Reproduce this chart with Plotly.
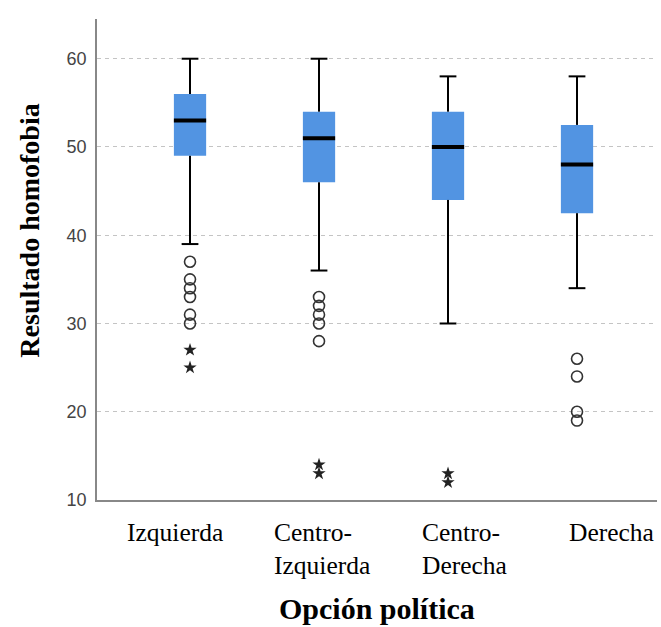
import plotly.graph_objects as go

categories = ["Izquierda", "Centro-<br>Izquierda", "Centro-<br>Derecha", "Derecha"]
upper_whisker = [60, 60, 58, 58]
q3 = [56, 54, 54, 52.5]
median = [53, 51, 50, 48]
q1 = [49, 46, 44, 42.5]
lower_whisker = [39, 36, 30, 34]
outliers_circle = [
    [37, 35, 34, 33, 31, 30],
    [33, 32, 31, 30, 28],
    [],
    [26, 24, 20, 19],
]
outliers_star = [
    [27, 25],
    [14, 13],
    [13, 12],
    [],
]
y_ticks = [10, 20, 30, 40, 50, 60]

BLUE = "#5294E2"
pos = list(range(len(categories)))
box_w = 0.25
cap_w = 0.13

fig = go.Figure()

fig.add_trace(go.Bar(
    x=pos, base=q1, y=[a - b for a, b in zip(q3, q1)], width=box_w,
    marker=dict(color=BLUE, line=dict(width=0)), hoverinfo="skip",
))

wx, wy = [], []
for i in pos:
    wx += [i, i, None, i, i, None]
    wy += [q3[i], upper_whisker[i], None, q1[i], lower_whisker[i], None]
fig.add_trace(go.Scatter(x=wx, y=wy, mode="lines", line=dict(color="black", width=2), hoverinfo="skip"))

cx, cy = [], []
for i in pos:
    for v in (upper_whisker[i], lower_whisker[i]):
        cx += [i - cap_w / 2, i + cap_w / 2, None]
        cy += [v, v, None]
fig.add_trace(go.Scatter(x=cx, y=cy, mode="lines", line=dict(color="black", width=2), hoverinfo="skip"))

mx, my = [], []
for i in pos:
    mx += [i - box_w / 2, i + box_w / 2, None]
    my += [median[i], median[i], None]
fig.add_trace(go.Scatter(x=mx, y=my, mode="lines", line=dict(color="black", width=4), hoverinfo="skip"))

ox, oy = [], []
for i in pos:
    for v in outliers_circle[i]:
        ox.append(i); oy.append(v)
fig.add_trace(go.Scatter(x=ox, y=oy, mode="markers",
                         marker=dict(symbol="circle-open", size=11, color="#333333", line=dict(width=1.6))))
sx, sy = [], []
for i in pos:
    for v in outliers_star[i]:
        sx.append(i); sy.append(v)
fig.add_trace(go.Scatter(x=sx, y=sy, mode="markers",
                         marker=dict(symbol="star", size=10, color="#222222", line=dict(width=0))))

xmin = -0.721
xmax = 3.62
fig.update_layout(
    width=661, height=627,
    margin=dict(l=97, r=4, t=19, b=127),
    plot_bgcolor="white", paper_bgcolor="white",
    showlegend=False,
    xaxis=dict(range=[xmin, xmax], showticklabels=False, showgrid=False, zeroline=False,
               showline=True, linecolor="#888888", linewidth=1.5, ticks=""),
    yaxis=dict(range=[10, 64.5], tickvals=y_ticks, showgrid=True, gridcolor="#c4c4c4",
               griddash="4px,4px", gridwidth=1, zeroline=False,
               showline=True, linecolor="#888888", linewidth=1.5, ticks="",
               ticklabelstandoff=5,
               tickfont=dict(family="Liberation Sans, Arial", size=18, color="#444444")),
)

label_left_px = [125, 272, 420, 567]
for i, lab in enumerate(categories):
    xd = xmin + (label_left_px[i] - 97) / 129.0
    fig.add_annotation(x=xd, xref="x", y=0, yref="paper",
                       text=lab, showarrow=False, xanchor="left", yanchor="top", align="left",
                       yshift=-16,
                       font=dict(family="Liberation Serif, Times New Roman", size=25.5, color="black"))

fig.add_annotation(x=0.5, xref="paper", y=0, yref="paper", yshift=-108, yanchor="middle",
                   text="<b>Opción política</b>", showarrow=False,
                   font=dict(family="Liberation Serif, Times New Roman", size=30, color="black"))
fig.add_annotation(x=0, xref="paper", xshift=-67, y=0.56, yref="paper", textangle=-90,
                   text="<b>Resultado homofobia</b>", showarrow=False, xanchor="center", yanchor="middle",
                   font=dict(family="Liberation Serif, Times New Roman", size=28, color="black"))

fig.write_html("out.html")
